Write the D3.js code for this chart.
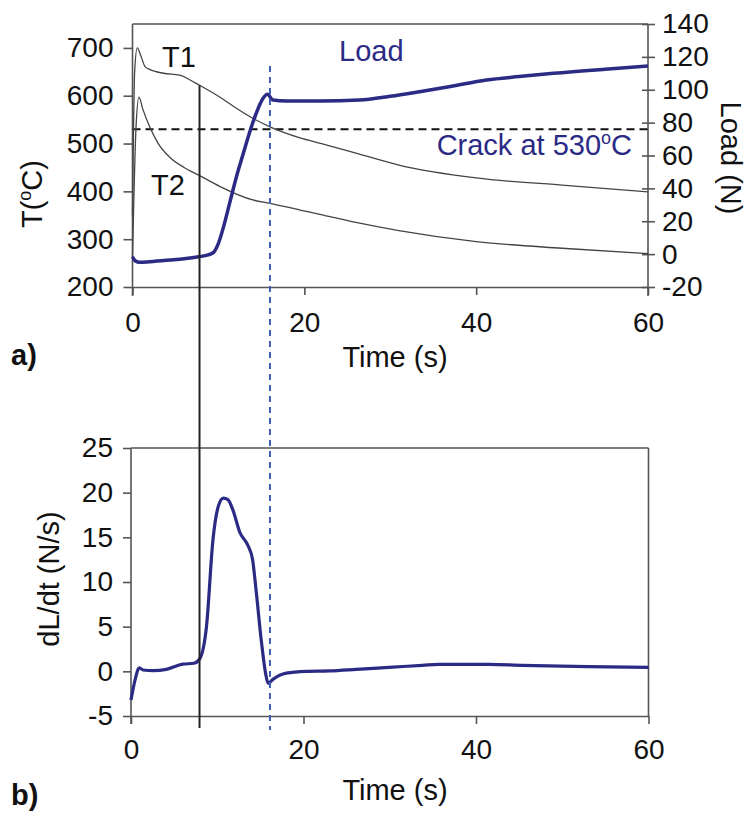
<!DOCTYPE html>
<html>
<head>
<meta charset="utf-8">
<script src="https://cdn.jsdelivr.net/npm/d3@7"></script>
<style>
  html, body { margin: 0; padding: 0; background: #fff; }
  svg { display: block; font-family: "Liberation Sans", Arial, sans-serif; }
</style>
</head>
<body>
<svg id="chart" width="748" height="815"></svg>
<script>
// ---------------- data ----------------
const xTicks = [0, 20, 40, 60];
const tempTicks = [200, 300, 400, 500, 600, 700];
const loadTicks = [-20, 0, 20, 40, 60, 80, 100, 120, 140];
const rateTicks = [-5, 0, 5, 10, 15, 20, 25];

const t1Time = [0, 0.25, 0.55, 1.0, 1.45, 2.0, 3.6, 5.5, 6.6, 7.8, 10.1, 12, 14, 16, 19.5, 22, 26, 31, 40, 50, 60];
const t1Temp = [350, 650, 700, 682, 661, 655, 647, 643, 634, 622, 598, 575, 553, 535, 512, 500, 480, 455, 428, 413, 399];

const t2Time = [0, 0.4, 0.75, 1.2, 2.0, 3.0, 4.3, 6, 7.7, 10.2, 14, 16, 19.5, 21.8, 26, 31, 40, 50, 60];
const t2Temp = [260, 530, 597, 572, 535, 500, 472, 450, 434, 410, 382, 375, 361, 352, 335, 318, 295, 281, 270];

const loadTime = [0, 0.3, 0.87, 2, 4.3, 6, 7.7, 8.8, 9.4, 10, 10.6, 11.3, 12.1, 12.9, 13.6, 14.4, 15.2, 15.7, 16.35, 17.9, 21.8, 26.4, 30, 33.4, 37, 41.2, 45, 49, 55, 60];
const loadVal  = [-1.6, -4, -5, -4.6, -3.6, -2.8, -1.6, -0.5, 0.9, 6.6, 16.7, 30.9, 47.1, 61.3, 73.5, 85.7, 94.8, 97.2, 93.7, 93.1, 93.1, 93.7, 96, 98.8, 102, 105.9, 108, 110, 112.5, 114.4];

const rateTime = [0, 0.46, 0.96, 1.4, 2.6, 4.1, 6.0, 7.3, 8.0, 8.75, 9.5, 10.1, 10.7, 11.25, 11.8, 12.6, 13.6, 14.1, 14.5, 15.1, 15.6, 15.9, 16.45, 18, 20.3, 23, 26.1, 29.9, 33.8, 35.7, 41.5, 45.3, 53, 60];
const rateVal  = [-3.2, -1.0, 0.4, 0.15, 0.07, 0.22, 0.8, 0.9, 1.45, 5.0, 14.7, 18.4, 19.4, 19.2, 18.1, 15.6, 14.0, 12.5, 9.1, 3.5, -0.2, -1.35, -0.9, -0.2, 0.0, 0.05, 0.22, 0.45, 0.67, 0.78, 0.78, 0.67, 0.52, 0.45];

const crackTemp = 530;
const startTime = 7.8;   // vertical solid line
const crackTime = 16;    // vertical dashed line

// ---------------- style ----------------
const navy = "#2b2a85";
const axisCol = "#555";
const tickFont = 28;
const labFont = 29;
const fmt = d => String(d);

const svg = d3.select("#chart");

// ---------------- scales ----------------
const xA = d3.scaleLinear().domain([0, 60]).range([132.5, 648]);
const yT = d3.scaleLinear().domain([200, 750]).range([287, 24]);
const yL = d3.scaleLinear().domain([-20, 140]).range([287, 24]);
const xB = d3.scaleLinear().domain([0, 60]).range([131, 648.5]);
const yR = d3.scaleLinear().domain([-5, 25]).range([716, 448]);

function styleAxis(g) {
  g.attr("font-family", null).attr("font-size", null);
  g.selectAll("path").attr("stroke", axisCol).attr("stroke-width", 1.6);
  g.selectAll("line").attr("stroke", axisCol).attr("stroke-width", 1.6);
  g.selectAll("text").attr("font-size", tickFont).attr("fill", "#111")
    .attr("font-family", "Liberation Sans, Arial, sans-serif");
}

// ---------------- top chart (a) ----------------
const gA = svg.append("g");
gA.append("line").attr("x1", xA(0)).attr("x2", xA(60)).attr("y1", yT(750)).attr("y2", yT(750))
  .attr("stroke", axisCol).attr("stroke-width", 1.6);

const axL = gA.append("g").attr("transform", `translate(${xA(0)},0)`)
  .call(d3.axisLeft(yT).tickValues(tempTicks).tickFormat(fmt).tickSize(9).tickPadding(10).tickSizeOuter(0));
styleAxis(axL);
axL.select("path").attr("d", `M0,${yT(750)}V${yT(200) + 9}`);

const axB = gA.append("g").attr("transform", `translate(0,${yT(200)})`)
  .call(d3.axisBottom(xA).tickValues(xTicks).tickFormat(fmt).tickSize(8).tickPadding(8).tickSizeOuter(0));
styleAxis(axB);
axB.selectAll("text").attr("dy", "0.71em").attr("y", 25);

const axR = gA.append("g").attr("transform", `translate(${xA(60)},0)`)
  .call(d3.axisRight(yL).tickValues(loadTicks).tickFormat(fmt).tickSize(7).tickPadding(7).tickSizeOuter(0));
styleAxis(axR);
axR.selectAll(".tick line").attr("x1", -6);
axR.select("path").attr("d", `M0,${yL(140)}V${yL(-20) + 9}`);

gA.append("line").attr("x1", xA(0)).attr("x2", xA(60))
  .attr("y1", yT(crackTemp)).attr("y2", yT(crackTemp))
  .attr("stroke", "#111").attr("stroke-width", 2).attr("stroke-dasharray", "8,5");

const lineT1 = d3.line().x((d, i) => xA(t1Time[i])).y(d => yT(d)).curve(d3.curveMonotoneX);
const lineT2 = d3.line().x((d, i) => xA(t2Time[i])).y(d => yT(d)).curve(d3.curveMonotoneX);
gA.append("path").attr("d", lineT1(t1Temp)).attr("fill", "none").attr("stroke", "#444").attr("stroke-width", 1.3);
gA.append("path").attr("d", lineT2(t2Temp)).attr("fill", "none").attr("stroke", "#444").attr("stroke-width", 1.3);

const lineLoad = d3.line().x((d, i) => xA(loadTime[i])).y(d => yL(d)).curve(d3.curveMonotoneX);
gA.append("path").attr("d", lineLoad(loadVal)).attr("fill", "none").attr("stroke", navy)
  .attr("stroke-width", 3.5).attr("stroke-linejoin", "round");

// ---------------- bottom chart (b) ----------------
const gB = svg.append("g");
gB.append("line").attr("x1", xB(0)).attr("x2", xB(60)).attr("y1", yR(25)).attr("y2", yR(25))
  .attr("stroke", axisCol).attr("stroke-width", 1.6);
gB.append("line").attr("x1", xB(60)).attr("x2", xB(60)).attr("y1", yR(25)).attr("y2", yR(-5))
  .attr("stroke", axisCol).attr("stroke-width", 1.6);

const axL2 = gB.append("g").attr("transform", `translate(${xB(0)},0)`)
  .call(d3.axisLeft(yR).tickValues(rateTicks).tickFormat(fmt).tickSize(8).tickPadding(10).tickSizeOuter(0));
styleAxis(axL2);
axL2.select("path").attr("d", `M0,${yR(25)}V${yR(-5) + 8}`);

const axB2 = gB.append("g").attr("transform", `translate(0,${yR(-5)})`)
  .call(d3.axisBottom(xB).tickValues(xTicks).tickFormat(fmt).tickSize(8).tickPadding(8).tickSizeOuter(0));
styleAxis(axB2);
axB2.selectAll("text").attr("dy", "0.71em").attr("y", 23);

const lineRate = d3.line().x((d, i) => xB(rateTime[i])).y(d => yR(d)).curve(d3.curveMonotoneX);
gB.append("path").attr("d", lineRate(rateVal)).attr("fill", "none").attr("stroke", navy)
  .attr("stroke-width", 3.2).attr("stroke-linejoin", "round");

// ---------------- connecting vertical lines ----------------
const t1AtStart = t1Temp[t1Time.indexOf(startTime)];
svg.append("line").attr("x1", xA(startTime)).attr("x2", xA(startTime))
  .attr("y1", yT(t1AtStart)).attr("y2", yR(-5) + 12)
  .attr("stroke", "#222").attr("stroke-width", 2);
const loadPeak = d3.max(loadVal);
svg.append("line").attr("x1", xA(crackTime)).attr("x2", xA(crackTime))
  .attr("y1", yL(loadPeak)).attr("y2", yR(-5) + 14)
  .attr("stroke", "#3e5fb4").attr("stroke-width", 2).attr("stroke-dasharray", "6,5");

// ---------------- text ----------------
function txt(x, y, s, opts = {}) {
  const t = svg.append("text").attr("x", x).attr("y", y)
    .attr("font-size", opts.size || labFont)
    .attr("fill", opts.fill || "#111")
    .attr("text-anchor", opts.anchor || "start");
  if (s) t.text(s);
  if (opts.weight) t.attr("font-weight", opts.weight);
  if (opts.rotate) t.attr("transform", `rotate(${opts.rotate},${x},${y})`);
  return t;
}
function withDegree(t, before, after) {
  t.append("tspan").text(before);
  t.append("tspan").text("o").attr("font-size", "0.62em").attr("dy", "-0.62em");
  t.append("tspan").text(after).attr("dy", "0.38em");
}

txt(162, 67, "T1", { size: 29 });
txt(151, 195, "T2", { size: 29 });
txt(339, 61, "Load", { fill: navy });
withDegree(txt(632, 155, "", { fill: navy, anchor: "end" }), "Crack at 530", "C");

txt(395, 367, "Time (s)", { anchor: "middle" });
txt(395, 800, "Time (s)", { anchor: "middle" });
txt(11, 365, "a)", { weight: "bold" });
txt(11, 805, "b)", { weight: "bold" });

withDegree(txt(42, 194, "", { anchor: "middle", rotate: -90 }), "T(", "C)");
txt(721, 158, "Load (N)", { anchor: "middle", rotate: 90 });
txt(59, 579, "dL/dt (N/s)", { anchor: "middle", rotate: -90 });
</script>
</body>
</html>
